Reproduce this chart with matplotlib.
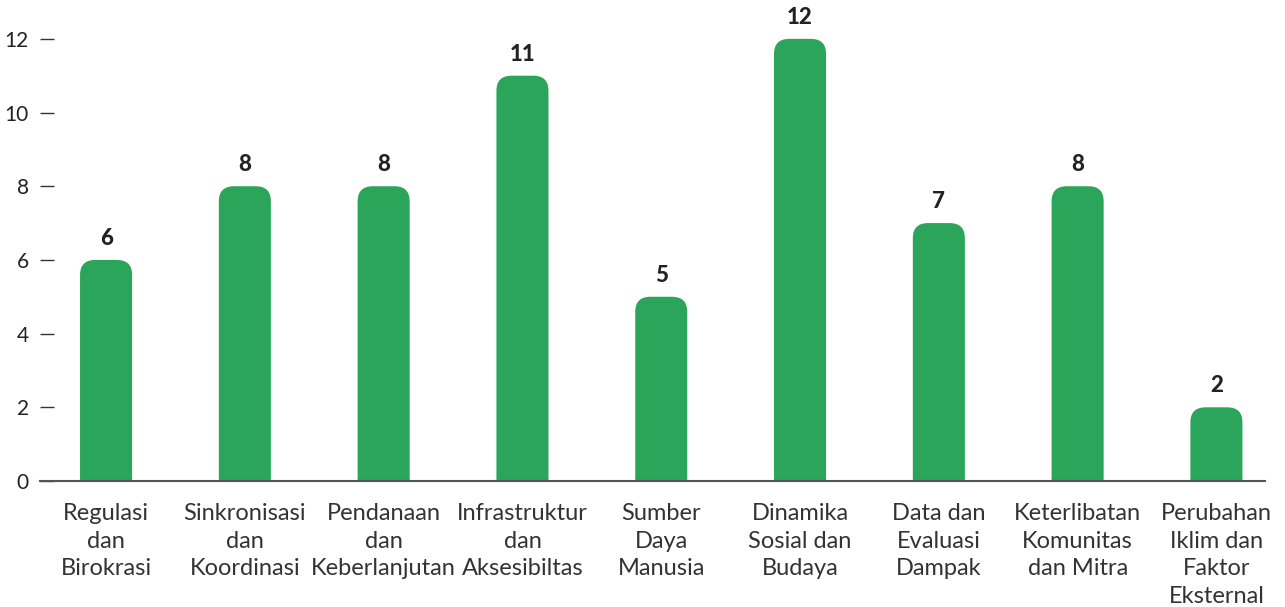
import matplotlib
matplotlib.use('Agg')
import matplotlib.pyplot as plt
from matplotlib.patches import FancyBboxPatch

categories = ['Regulasi\ndan\nBirokrasi', 'Sinkronisasi\ndan\nKoordinasi',
              'Pendanaan\ndan\nKeberlanjutan', 'Infrastruktur\ndan\nAksesibiltas',
              'Sumber\nDaya\nManusia', 'Dinamika\nSosial dan\nBudaya',
              'Data dan\nEvaluasi\nDampak', 'Keterlibatan\nKomunitas\ndan Mitra',
              'Perubahan\nIklim dan\nFaktor\nEksternal']
values = [6, 8, 8, 11, 5, 12, 7, 8, 2]
yticks = [0, 2, 4, 6, 8, 10, 12]

green = '#2aa55a'
dark = '#222222'

plt.rcParams['font.family'] = ['Lato', 'DejaVu Sans']

fig = plt.figure(figsize=(12.85, 6.07), dpi=100)
W, H = 1285, 607
ax = fig.add_axes([40 / W, 1 - 481 / H, (1265 - 40) / W, (481 - 2) / H])

x = list(range(len(values)))
bars = ax.bar(x, values, width=0.375, color='none')

# rounded tops: replace each rectangle by a rounded box whose bottom corners sit below the axis
for rect in bars:
    x0 = rect.get_x()
    w = rect.get_width()
    h = rect.get_height()
    box = FancyBboxPatch((x0, -1), w, h + 1,
                         boxstyle='round,pad=0,rounding_size=0.11',
                         mutation_aspect=3.7, facecolor=green,
                         edgecolor='none', clip_on=True)
    ax.add_patch(box)
    ax.annotate(str(int(h)), (x0 + w / 2, h), xytext=(0, 8),
                textcoords='offset points', ha='center', va='bottom',
                fontsize=16, fontweight='black', color=dark)

ax.set_xlim(-0.476, 8.35)
ax.set_ylim(0, 13)

for s in ['top', 'right', 'left']:
    ax.spines[s].set_visible(False)
ax.spines['bottom'].set_color('#555555')
ax.spines['bottom'].set_linewidth(1.5)

ax.set_yticks(yticks)
ax.tick_params(axis='y', direction='in', length=10, width=1, color='#333333',
               pad=8, labelsize=15, labelcolor=dark)
ax.set_xticks(x)
ax.set_xticklabels(categories, linespacing=1.38)
ax.tick_params(axis='x', length=0, pad=16, labelsize=17, labelcolor='#333333')

fig.savefig('out.png', dpi=100)
